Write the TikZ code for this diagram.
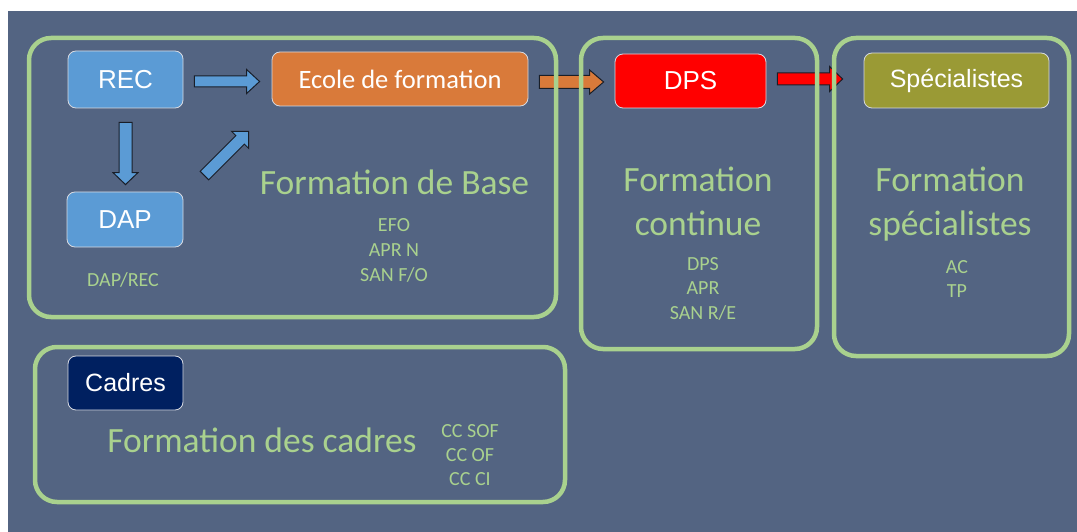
\documentclass[tikz,border=0pt]{standalone}
\usepackage{fontspec}
\setmainfont{Liberation Sans}
\newfontfamily\calib{Carlito}
\usetikzlibrary{calc}
\definecolor{bgc}{RGB}{83,100,130}
\definecolor{grn}{RGB}{169,209,142}
\definecolor{recblue}{RGB}{91,155,213}
\definecolor{orng}{RGB}{217,122,58}
\definecolor{olive}{RGB}{154,154,53}
\definecolor{navy}{RGB}{0,32,96}
\definecolor{nborder}{RGB}{215,218,225}
\definecolor{arrdk}{RGB}{25,30,40}
\pgfdeclarelayer{arrlayer}
\pgfdeclarelayer{frmlayer}
\pgfsetlayers{arrlayer,frmlayer,main}
\newcommand\blockarrow[6]{%
  \coordinate (bA) at #1;
  \coordinate (bB) at #2;
  \coordinate (bM) at ($(bB)!#5!(bA)$);
  \draw[arrline, fill=#6] ($(bA)!#3!90:(bB)$) -- ($(bM)!#3!90:(bB)$) -- ($(bM)!#4!90:(bB)$) -- (bB) -- ($(bM)!#4!-90:(bB)$) -- ($(bM)!#3!-90:(bB)$) -- ($(bA)!#3!-90:(bB)$) -- cycle;}
\begin{document}
\begin{tikzpicture}[x=1pt,y=-1pt,
  frame/.style={draw=grn, line width=4.5pt, rounded corners=22pt},
  lbl/.style={draw=nborder, line width=0.8pt, rounded corners=8pt, text=white, inner sep=0pt,
    font=\fontsize{26}{30}\selectfont},
  gtxt/.style={text=grn, inner sep=0pt, anchor=base, font=\calib\fontsize{20}{24}\selectfont},
  big/.style={text=grn, inner sep=0pt, anchor=base, font=\calib\fontsize{35.5}{42}\selectfont},
  arrline/.style={draw=arrdk, line width=1pt, line join=miter}]
\useasboundingbox (0,0) rectangle (1077,532);

% nodes
\node[lbl, fill=recblue, minimum width=115pt, minimum height=57pt] (rec) at (125.5,79.5) {REC};
\node[lbl, fill=orng, minimum width=256pt, minimum height=54pt, font=\calib\fontsize{26.5}{30}\selectfont] (ecole) at (400,79) {Ecole de formation};
\node[lbl, fill=red, minimum width=151pt, minimum height=54pt] (dps) at (690.5,81) {DPS};
\node[lbl, fill=olive, minimum width=185pt, minimum height=55pt, font=\fontsize{25}{30}\selectfont] (spec) at (956.5,80.5) {Spécialistes};
\node[lbl, fill=recblue, minimum width=116pt, minimum height=55pt] (dap) at (125,219.5) {DAP};
\node[lbl, fill=navy, minimum width=115pt, minimum height=54pt, font=\fontsize{25}{30}\selectfont] (cadres) at (125.5,383) {Cadres};

% background and block arrows
\begin{pgfonlayer}{arrlayer}
\fill[bgc] (8,11) rectangle (1077,532);
\blockarrow{($(rec.east)+(11,2)$)}{($(ecole.west)+(-12,2.5)$)}{5.5pt}{12pt}{13pt}{recblue}
\blockarrow{($(rec.south)+(0,14)$)}{($(dap.north)+(0.5,-7)$)}{6.5pt}{12.5pt}{12pt}{recblue}
\blockarrow{($(dap.north east)+(21,-16)$)}{($(ecole.south west)+(-23,25)$)}{6pt}{12pt}{12pt}{recblue}
\blockarrow{($(ecole.east)+(11,3)$)}{($(dps.west)+(-11,1)$)}{6.5pt}{12pt}{14pt}{orng}
\blockarrow{($(dps.east)+(11,-2)$)}{($(spec.west)+(-21,-1.5)$)}{6pt}{12.5pt}{13pt}{red}
\end{pgfonlayer}

% group frames
\begin{pgfonlayer}{frmlayer}
\draw[frame] (29,38) rectangle (556,317);
\draw[frame] (581,38) rectangle (817,349);
\draw[frame] (834,38) rectangle (1069,356);
\draw[frame] (35,347) rectangle (565,502);
\end{pgfonlayer}

% texts
\node[big] (fb) at (394.5,194) {Formation de Base};
\node[gtxt] (fb1) at (394,232) {EFO};
\node[gtxt] (fb2) at (394,256.5) {APR N};
\node[gtxt] (fb3) at (394,281) {SAN F/O};
\node[gtxt] (dr) at (123,286) {DAP/REC};

\node[big] (fc1) at (698,192) {Formation};
\node[big] (fc2) at (698,235) {continue};
\node[gtxt] (fcl1) at (703,270) {DPS};
\node[gtxt] (fcl2) at (703,294.5) {APR};
\node[gtxt] (fcl3) at (703,319) {SAN R/E};

\node[big] (fs1) at (950,192) {Formation};
\node[big] (fs2) at (950,235) {spécialistes};
\node[gtxt] (fsl1) at (957,273) {AC};
\node[gtxt] (fsl2) at (957,297) {TP};

\node[big] (fd) at (262,452) {Formation des cadres};
\node[gtxt] (fdl1) at (470,437) {CC SOF};
\node[gtxt] (fdl2) at (470,461) {CC OF};
\node[gtxt] (fdl3) at (470,485) {CC CI};
\end{tikzpicture}
\end{document}
